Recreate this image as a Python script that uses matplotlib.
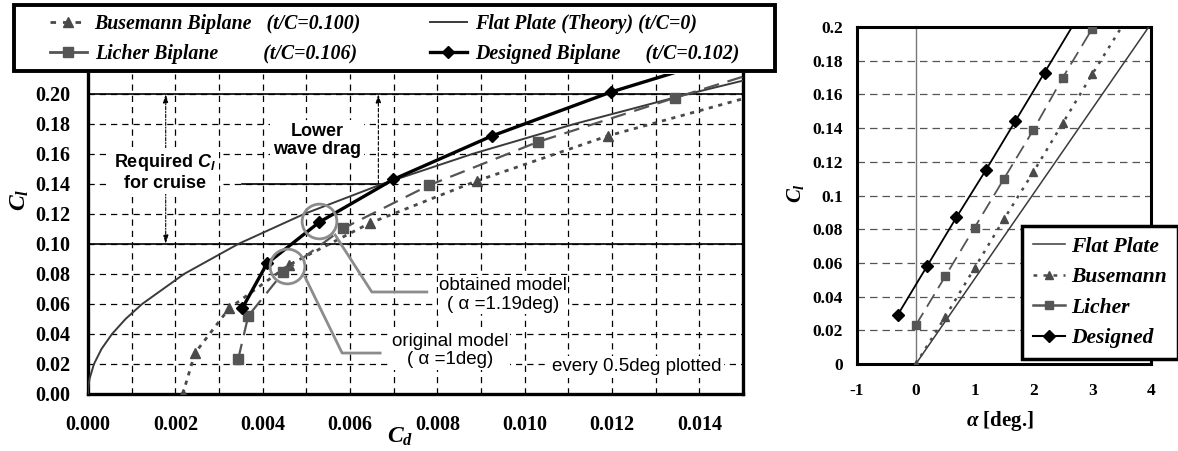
import numpy as np
import matplotlib
matplotlib.use("Agg")
import matplotlib.pyplot as plt
from matplotlib.lines import Line2D
from matplotlib.patches import Rectangle

plt.rcParams['font.family'] = ['Liberation Serif', 'DejaVu Serif']
plt.rcParams['font.weight'] = 'bold'
plt.rcParams['axes.unicode_minus'] = False
plt.rcParams['mathtext.fontset'] = 'custom'
plt.rcParams['mathtext.it'] = 'Liberation Serif:italic:bold'
plt.rcParams['mathtext.rm'] = 'Liberation Serif:bold'
plt.rcParams['mathtext.sf'] = 'Liberation Sans:italic:bold'

# ---- drag polar (left) ----
flat_cd = [0, 0.0000086, 0.0000344, 0.000137, 0.000309, 0.00055, 0.00086, 0.00124,
           0.0022, 0.00344, 0.00495, 0.00674, 0.0088, 0.01114, 0.01375, 0.01516]
flat_cl = [0, 0.005, 0.01, 0.02, 0.03, 0.04, 0.05, 0.06,
           0.08, 0.10, 0.12, 0.14, 0.16, 0.18, 0.20, 0.21]
buse_cd = [0.00217, 0.00245, 0.00323, 0.0046, 0.00646, 0.0089, 0.0119, 0.0154]
buse_cl = [0.000, 0.0273, 0.057, 0.086, 0.114, 0.142, 0.172, 0.200]
lich_cd = [0.00344, 0.00367, 0.00447, 0.00585, 0.0078, 0.0103, 0.01345, 0.0166]
lich_cl = [0.0233, 0.052, 0.081, 0.1105, 0.139, 0.168, 0.1975, 0.226]
des_cd = [0.00353, 0.0041, 0.0053, 0.00699, 0.00925, 0.01198, 0.0152]
des_cl = [0.057, 0.087, 0.1146, 0.143, 0.172, 0.2013, 0.230]

# ---- lift curve (right) ----
flat_a = [0, 1, 2, 3, 4]
flat_a_cl = [0, 0.0505, 0.101, 0.1515, 0.202]
buse_a = [0, 0.5, 1, 1.5, 2, 2.5, 3, 3.5]
buse_a_cl = [0, 0.028, 0.057, 0.086, 0.114, 0.143, 0.172, 0.200]
lich_a = [0, 0.5, 1, 1.5, 2, 2.5, 3, 3.5]
lich_a_cl = [0.023, 0.052, 0.081, 0.110, 0.139, 0.170, 0.199, 0.228]
des_a = [-0.31, 0.19, 0.69, 1.19, 1.69, 2.19, 2.69]
des_a_cl = [0.029, 0.058, 0.087, 0.115, 0.144, 0.173, 0.202]

# annotation anchors (data units)
circle_cd = [0.0053, 0.00456]
circle_cl = [0.115, 0.0853]
cruise_cl = [0.10, 0.20]
req_cd = 0.00178
lower_cd = 0.00665
lower_cl = [0.14, 0.20]
seg14_cd = [0.00353, 0.0068]

c_des = 'black'
c_flat = '#3a3a3a'
c_buse = '#4a4a4a'
c_lich = '#555555'

fig = plt.figure(figsize=(11.78, 4.51), dpi=100)
ax = fig.add_axes([0.0747, 0.1264, 0.556, 0.7095])
ax2 = fig.add_axes([0.7275, 0.1929, 0.2496, 0.7472])

# ---------------- left chart ----------------
ax.set_xlim(0, 0.015)
ax.set_ylim(0, 0.2133)
ax.set_xticks(np.arange(0, 0.0151, 0.002))
ax.set_xticks(np.arange(0, 0.0151, 0.001), minor=True)
ax.set_yticks(np.arange(0, 0.201, 0.02))
ax.set_xticklabels(['%.3f' % v for v in np.arange(0, 0.0151, 0.002)])
ax.set_yticklabels(['%.2f' % v for v in np.arange(0, 0.201, 0.02)])
ax.tick_params(which='both', length=0, labelsize=14.5)
ax.tick_params(axis='y', pad=13)
ax.tick_params(axis='x', pad=15)
ax.grid(which='both', axis='x', color='k', lw=0.9, ls=(0, (5, 4)))
ax.grid(which='major', axis='y', color='k', lw=0.9, ls=(0, (5, 4)))
ax.set_axisbelow(True)
for s in ['left', 'bottom', 'right']:
    ax.spines[s].set_linewidth(2.4)
ax.spines['top'].set_visible(False)

for c in cruise_cl:
    ax.axhline(c, color='k', lw=1.2, zorder=1.5)
ax.plot(seg14_cd, [0.14, 0.14], color='k', lw=1.2, zorder=1.5)

ax.plot(flat_cd, flat_cl, color=c_flat, lw=1.4, zorder=3)
ax.plot(buse_cd, buse_cl, color=c_buse, lw=2, ls=(0, (1.5, 2)), marker='^', ms=7, zorder=3)
ax.plot(lich_cd, lich_cl, color=c_lich, lw=1.6, ls=(0, (7, 4)), marker='s', ms=7, zorder=3)
ax.plot(des_cd, des_cl, color=c_des, lw=2.4, marker='D', ms=6, zorder=4)

ax.plot(circle_cd, circle_cl, 'o', ms=25, mfc='none', mec='#8c8c8c', mew=2, zorder=5)
ax.plot([0.00566, 0.0065, 0.00776], [0.106, 0.068, 0.068], color='#8c8c8c', lw=2, zorder=5)
ax.plot([0.00497, 0.00582, 0.00669], [0.078, 0.0273, 0.0273], color='#8c8c8c', lw=2, zorder=5)

ax.annotate('', xy=(req_cd, cruise_cl[1]), xytext=(req_cd, cruise_cl[0]),
            arrowprops=dict(arrowstyle='<|-|>,head_length=0.5,head_width=0.15',
                            ls=(0, (3, 1.5, 1, 1.5)), lw=0.8, color='k',
                            shrinkA=0, shrinkB=0), zorder=2)
ax.annotate('', xy=(lower_cd, lower_cl[1]), xytext=(lower_cd, lower_cl[0]),
            arrowprops=dict(arrowstyle='-|>,head_length=0.5,head_width=0.15',
                            ls=(0, (3, 2)), lw=0.8, color='k',
                            shrinkA=0, shrinkB=0), zorder=2)

sans = 'Liberation Sans'
ax.text(0.00176, 0.148, 'Required $\\mathsf{C_l}$\nfor cruise', family=sans, weight='bold',
        fontsize=13, ha='center', va='center', linespacing=1.1, zorder=6,
        bbox=dict(fc='white', ec='none', pad=2))
ax.text(0.00524, 0.169, 'Lower\nwave drag', family=sans, weight='bold',
        fontsize=13, ha='center', va='center', linespacing=1.1, zorder=6,
        bbox=dict(fc='white', ec='none', pad=2))
ax.text(0.0095, 0.0663, 'obtained model\n( α =1.19deg)', family=sans, weight='normal',
        fontsize=13.5, ha='center', va='center', linespacing=1.15, zorder=6,
        bbox=dict(fc='white', ec='none', pad=1))
ax.text(0.00829, 0.029, 'original model\n( α =1deg)', family=sans, weight='normal',
        fontsize=13.5, ha='center', va='center', linespacing=1.15, zorder=6,
        bbox=dict(fc='white', ec='none', pad=1))
ax.text(0.01257, 0.018, 'every 0.5deg plotted', family=sans, weight='normal',
        fontsize=13.5, ha='center', va='center', zorder=6,
        bbox=dict(fc='white', ec='none', pad=2))

fig.text(20 / 1178, 1 - 200 / 451, '$C_l$', fontsize=17, rotation=90, ha='center', va='center')
fig.text(400 / 1178, 1 - 437 / 451, '$C_d$', fontsize=17, ha='center', va='center')

# legend box of the left chart
fig.patches.append(Rectangle((14 / 1178, 1 - 71 / 451), 761 / 1178, 66 / 451,
                             transform=fig.transFigure, fc='white', ec='k', lw=2.8,
                             zorder=8))
leg_prop = dict(family='Liberation Serif', style='italic', weight='bold', size=14.3)
h_buse = Line2D([], [], color=c_buse, lw=2, ls=(0, (2, 2.5)), marker='^', ms=7)
h_lich = Line2D([], [], color=c_lich, lw=2, marker='s', ms=7)
h_flat = Line2D([], [], color=c_flat, lw=1.4)
h_des = Line2D([], [], color=c_des, lw=2.4, marker='D', ms=6)
leg_a = fig.legend([h_buse, h_lich],
                   ['Busemann Biplane   (t/C=0.100)',
                    'Licher Biplane         (t/C=0.106)'],
                   loc='upper left', bbox_to_anchor=(50 / 1178, 1 - 14 / 451),
                   frameon=False, prop=leg_prop, handlelength=1.85,
                   labelspacing=0.5, borderaxespad=0, borderpad=0, handletextpad=0.4)
leg_b = fig.legend([h_flat, h_des],
                   ['Flat Plate (Theory) (t/C=0)',
                    'Designed Biplane     (t/C=0.102)'],
                   loc='upper left', bbox_to_anchor=(430 / 1178, 1 - 14 / 451),
                   frameon=False, prop=leg_prop, handlelength=1.85,
                   labelspacing=0.5, borderaxespad=0, borderpad=0, handletextpad=0.4)
leg_a.set_zorder(9)
leg_b.set_zorder(9)

# ---------------- right chart ----------------
ax2.set_xlim(-1, 4)
ax2.set_ylim(0, 0.2)
ax2.set_xticks([-1, 0, 1, 2, 3, 4])
ax2.set_yticks(np.arange(0, 0.201, 0.02))
ax2.set_yticklabels(['0', '0.02', '0.04', '0.06', '0.08', '0.1', '0.12', '0.14',
                     '0.16', '0.18', '0.2'])
ax2.tick_params(labelsize=12.5, length=0)
ax2.tick_params(axis='y', pad=10)
ax2.tick_params(axis='x', pad=14)
ax2.grid(axis='y', color='#555555', lw=0.9, ls=(0, (6, 4)))
ax2.set_axisbelow(True)
for s in ax2.spines.values():
    s.set_linewidth(2.2)
ax2.axvline(0, color='#777777', lw=1.0, zorder=1.5)

ax2.plot(flat_a, flat_a_cl, color=c_flat, lw=1.1, zorder=3)
ax2.plot(buse_a, buse_a_cl, color=c_buse, lw=1.8, ls=(0, (1.2, 2.5)), marker='^', ms=6,
         markevery=slice(0, -1), zorder=3)
ax2.plot(lich_a, lich_a_cl, color=c_lich, lw=1.3, ls=(0, (8, 4)), marker='s', ms=6,
         markevery=slice(0, -1), zorder=3)
ax2.plot(des_a, des_a_cl, color=c_des, lw=1.3, marker='D', ms=6,
         markevery=slice(0, -1), zorder=4)

fig.text(795 / 1178, 1 - 193 / 451, '$C_l$', fontsize=15, rotation=90, ha='center', va='center')
fig.text(1000 / 1178, 1 - 421 / 451, '$\\alpha$ [deg.]', fontsize=15, ha='center', va='center')

r_flat = Line2D([], [], color=c_flat, lw=1.1)
r_buse = Line2D([], [], color=c_buse, lw=1.8, ls=(0, (1.5, 2.5)), marker='^', ms=6)
r_lich = Line2D([], [], color=c_lich, lw=1.8, marker='s', ms=6)
r_des = Line2D([], [], color=c_des, lw=1.5, marker='D', ms=6)
leg2 = ax2.legend([r_flat, r_buse, r_lich, r_des], ['Flat Plate', 'Busemann', 'Licher', 'Designed'],
                  loc='upper left', bbox_to_anchor=(1022 / 1178, 1 - 226 / 451),
                  bbox_transform=fig.transFigure, fancybox=False, edgecolor='k', framealpha=1,
                  prop=dict(family='Liberation Serif', style='italic', weight='bold', size=15.5),
                  handlelength=1.5, labelspacing=0.48, borderaxespad=0, handletextpad=0.3,
                  borderpad=0.5)
leg2.get_frame().set_linewidth(2.5)

fig.savefig('out.png', dpi=100, facecolor='white')
